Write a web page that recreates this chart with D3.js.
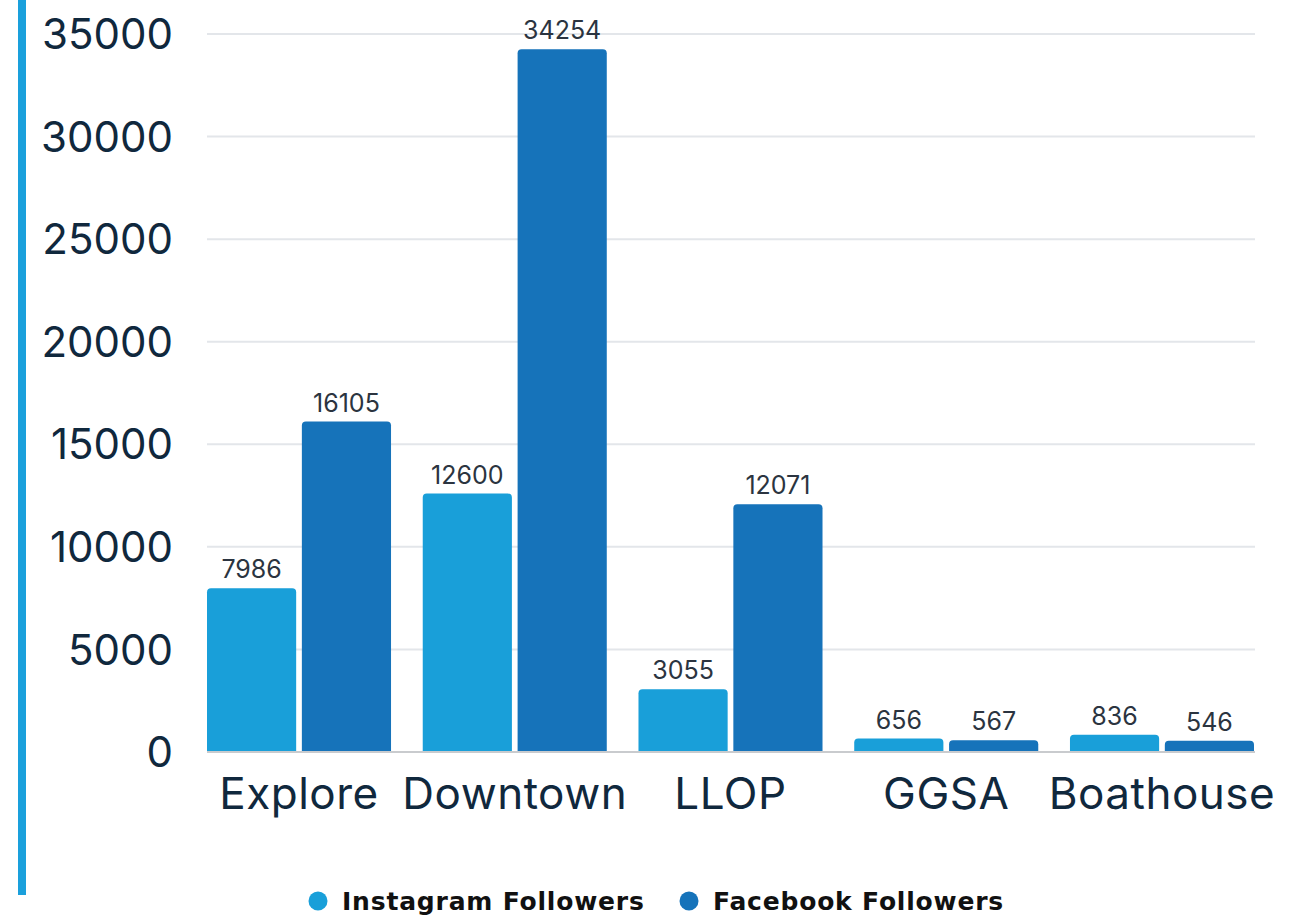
<!DOCTYPE html>
<html>
<head>
<meta charset="utf-8">
<script src="https://cdn.jsdelivr.net/npm/d3@7"></script>
<style>
  body { margin: 0; background: #fff; }
  svg { display: block; }
</style>
</head>
<body>
<div id="chart"></div>
<script>
// data
const categories = ['Explore', 'Downtown', 'LLOP', 'GGSA', 'Boathouse']
const seriesNames = ['Instagram Followers', 'Facebook Followers']
const instagram = [7986, 12600, 3055, 656, 836]
const facebook = [16105, 34254, 12071, 567, 546]
const yTicks = [0, 5000, 10000, 15000, 20000, 25000, 30000, 35000]

const width = 1295, height = 916
const colors = ['#199fd9', '#1673ba']
const margin = {left: 207, right: 41, top: 34, bottom: 164}

const svg = d3.select('#chart').append('svg')
    .attr('width', width)
    .attr('height', height)

// blue bar on the left
svg.append('rect')
    .attr('x', 18).attr('y', 0)
    .attr('width', 8).attr('height', 895)
    .attr('fill', '#1aa0dc')

const x = d3.scaleBand()
    .domain(categories)
    .range([margin.left, width - margin.right])
    .paddingInner(0.147)
    .paddingOuter(0)

const xs = d3.scaleBand()
    .domain(seriesNames)
    .range([0, x.bandwidth()])
    .paddingInner(0.06)

const y = d3.scaleLinear()
    .domain([0, 35000])
    .range([height - margin.bottom, margin.top])

// gridlines
svg.append('g')
    .selectAll('line')
    .data(yTicks.slice(1))
    .enter()
    .append('line')
    .attr('x1', margin.left).attr('x2', width - margin.right + 1)
    .attr('y1', d => y(d)).attr('y2', d => y(d))
    .attr('stroke', '#e3e6ea')
    .attr('stroke-width', 2)

// y axis labels
const yAxis = d3.axisLeft(y).tickValues(yTicks).tickSize(0).tickPadding(0).tickFormat(d3.format('d'))
const gy = svg.append('g')
    .attr('transform', 'translate(173,0)')
    .call(yAxis)
gy.select('.domain').remove()
gy.selectAll('text')
    .attr('font-family', 'Inter, sans-serif')
    .attr('font-size', 42)
    .attr('fill', '#10283d')
    .attr('dy', '0.35em')

// bars
const rows = categories.map((c, i) => ({cat: c, vals: [instagram[i], facebook[i]]}))
const r = 4
function barPath (x0, w, v) {
    const y0 = y(0), y1 = y(v)
    const rr = Math.min(r, (y0 - y1))
    return `M${x0},${y0}V${y1 + rr}Q${x0},${y1} ${x0 + rr},${y1}H${x0 + w - rr}Q${x0 + w},${y1} ${x0 + w},${y1 + rr}V${y0}Z`
}

const groups = svg.append('g')
    .selectAll('g')
    .data(rows)
    .enter()
    .append('g')
    .attr('transform', d => `translate(${x(d.cat)},0)`)

groups.selectAll('path')
    .data(d => d.vals.map((v, k) => ({name: seriesNames[k], v: v, k: k})))
    .enter()
    .append('path')
    .attr('d', d => barPath(xs(d.name), xs.bandwidth(), d.v))
    .attr('fill', d => colors[d.k])

groups.selectAll('text')
    .data(d => d.vals.map((v, k) => ({name: seriesNames[k], v: v, k: k})))
    .enter()
    .append('text')
    .attr('x', d => xs(d.name) + xs.bandwidth() / 2)
    .attr('y', d => y(d.v) - 10)
    .attr('text-anchor', 'middle')
    .attr('font-family', 'Inter, sans-serif')
    .attr('font-size', 25)
    .attr('fill', '#2b3440')
    .text(d => d.v)

// baseline
svg.append('line')
    .attr('x1', margin.left).attr('x2', width - margin.right + 1)
    .attr('y1', y(0)).attr('y2', y(0))
    .attr('stroke', '#c9cbce')
    .attr('stroke-width', 2)

// x labels
svg.append('g')
    .selectAll('text')
    .data(categories)
    .enter()
    .append('text')
    .attr('x', d => x(d) + x.bandwidth() / 2)
    .attr('y', 809)
    .attr('text-anchor', 'middle')
    .attr('font-family', 'Inter, sans-serif')
    .attr('font-size', 44)
    .attr('letter-spacing', 0.5)
    .attr('fill', '#10283d')
    .text(d => d)

// legend
const legendX = [318, 689]
const lg = svg.append('g')
    .selectAll('g')
    .data(seriesNames)
    .enter()
    .append('g')
    .attr('transform', (d, i) => `translate(${legendX[i]},901)`)
lg.append('circle')
    .attr('r', 9.5)
    .attr('fill', (d, i) => colors[i])
lg.append('text')
    .attr('x', 24)
    .attr('dy', '0.36em')
    .attr('font-family', 'DejaVu Sans, sans-serif')
    .attr('font-weight', 'bold')
    .attr('font-size', 25)
    .attr('letter-spacing', 0.8)
    .attr('fill', '#111')
    .text(d => d)
</script>
</body>
</html>
